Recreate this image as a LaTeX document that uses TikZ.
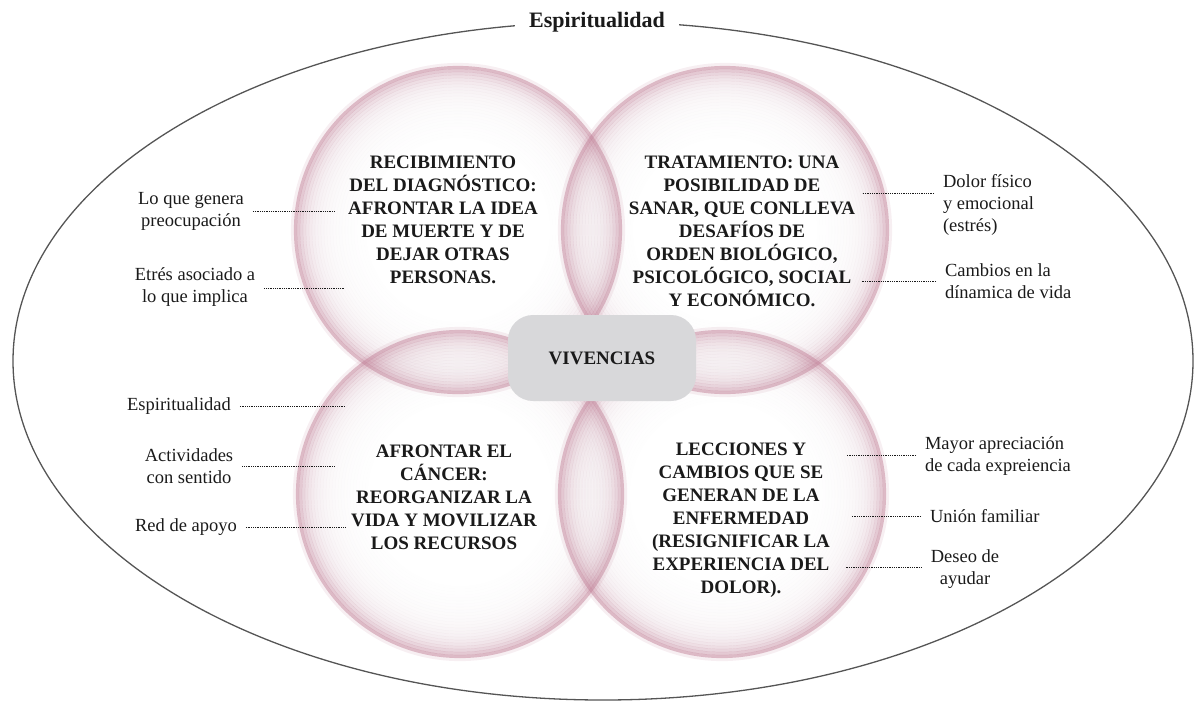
\documentclass[tikz,border=0pt]{standalone}
\usepackage{fontspec}
\setmainfont{Liberation Serif}
\usepackage{tikz}
\usetikzlibrary{positioning,calc}
\definecolor{ink}{HTML}{1A1A1A}
\definecolor{frame}{HTML}{555555}
\definecolor{bubgray}{HTML}{B9B3B8}
\definecolor{bubrim}{HTML}{C07D95}
\definecolor{boxgray}{HTML}{D8D8DA}
\tikzset{
  x=1pt,y=-1pt,
  outline/.style={draw=frame,line width=1.3pt},
  ringline/.style={line width=3.2pt},
  bigtext/.style={align=center,text=ink,font=\fontsize{19}{23}\selectfont\bfseries},
  lab/.style={align=center,text=ink,inner sep=3pt,outer sep=6pt,
    font=\fontsize{18.5}{22}\selectfont},
  rlab/.style={lab,align=left,anchor=west},
  dotline/.style={draw=ink,line width=0.9pt,dash pattern=on 0.9pt off 0.9pt},
  centerbox/.style={rounded corners=25pt,fill=boxgray,minimum width=188pt,
    minimum height=86pt,font=\fontsize{19}{23}\selectfont\bfseries,text=ink}
}

\begin{document}
\begin{tikzpicture}
  \useasboundingbox (0,0) rectangle (1199,704);
  \draw[outline] (603,361) ellipse [x radius=590, y radius=339];
  \node[fill=white,inner xsep=14pt,inner ysep=4pt,font=\fontsize{22}{26}\selectfont\bfseries,text=ink]
    (title) at (597,22) {Espiritualidad};

  % the four bubbles
  \coordinate (tl) at (458,230);
  \coordinate (tr) at (725,230);
  \coordinate (bl) at (460,494);
  \coordinate (br) at (722,494);
  \foreach \c in {tl,tr,bl,br}
    \fill[white] (\c) circle [radius=164];
  \foreach \c in {tl,tr,bl,br}{
    \draw[ringline,bubrim,draw opacity=0.12] (\c) circle [radius=165.5];
    \foreach \k in {0,...,24}{
      \pgfmathsetmacro\op{0.46*exp(-\k/3.6)+0.07*(1-\k/24)}
      \pgfmathsetmacro\mix{100-4*\k}
      \draw[ringline,draw=bubrim!\mix!bubgray,draw opacity=\op] (\c) circle [radius={162.5-3*\k}];
    }
  }

  \node[centerbox] (viv) at (602,358) {VIVENCIAS};

  \node[bigtext] (tltxt) at (443,220) {RECIBIMIENTO\\DEL DIAGNÓSTICO:\\AFRONTAR LA IDEA\\DE MUERTE Y DE\\DEJAR OTRAS\\PERSONAS.};
  \node[bigtext] (trtxt) at (742,231) {TRATAMIENTO: UNA\\POSIBILIDAD DE\\SANAR, QUE CONLLEVA\\DESAFÍOS DE\\ORDEN BIOLÓGICO,\\PSICOLÓGICO, SOCIAL\\Y ECONÓMICO.};
  \node[bigtext] (bltxt) at (444,497) {AFRONTAR EL\\CÁNCER:\\REORGANIZAR LA\\VIDA Y MOVILIZAR\\LOS RECURSOS};
  \node[bigtext] (brtxt) at (741,520) {LECCIONES Y\\CAMBIOS QUE SE\\GENERAN DE LA\\ENFERMEDAD\\(RESIGNIFICAR LA\\EXPERIENCIA DEL\\DOLOR).};

  % left labels
  \node[lab] (gen) at (191,211) {Lo que genera\\preocupación};
  \node[lab] (etres) at (195,287) {Etrés asociado a\\lo que implica};
  \node[lab] (espi) at (179,406) {Espiritualidad};
  \node[lab] (activ) at (189,466) {Actividades\\con sentido};
  \node[lab] (red) at (186,527) {Red de apoyo};
  \coordinate (genend) at (335,211);
  \coordinate (etresend) at (345,288);
  \coordinate (espiend) at (345,406);
  \coordinate (activend) at (335,466);
  \coordinate (redend) at (345,527);
  \draw[dotline] (gen.east |- genend) -- (genend);
  \draw[dotline] (etres.east |- etresend) -- (etresend);
  \draw[dotline] (espi.east |- espiend) -- (espiend);
  \draw[dotline] (activ.east |- activend) -- (activend);
  \draw[dotline] (red.east |- redend) -- (redend);

  % right labels
  \node[rlab] (dolor) at (934,205) {Dolor físico\\y emocional\\(estrés)};
  \node[rlab] (cambios) at (936,281) {Cambios en la\\dínamica de vida};
  \node[rlab] (mayor) at (916,456) {Mayor apreciación\\de cada expreiencia};
  \node[rlab] (union) at (921,516) {Unión familiar};
  \node[lab] (deseo) at (965,569) {Deseo de\\ayudar};
  \coordinate (dolorend) at (862,193);
  \coordinate (cambiosend) at (862,281);
  \coordinate (mayorend) at (846,455);
  \coordinate (unionend) at (852,516);
  \coordinate (deseoend) at (846,567);
  \draw[dotline] (dolor.west |- dolorend) -- (dolorend);
  \draw[dotline] (cambios.west |- cambiosend) -- (cambiosend);
  \draw[dotline] (mayor.west |- mayorend) -- (mayorend);
  \draw[dotline] (union.west |- unionend) -- (unionend);
  \draw[dotline] (deseo.west |- deseoend) -- (deseoend);
\end{tikzpicture}
\end{document}
